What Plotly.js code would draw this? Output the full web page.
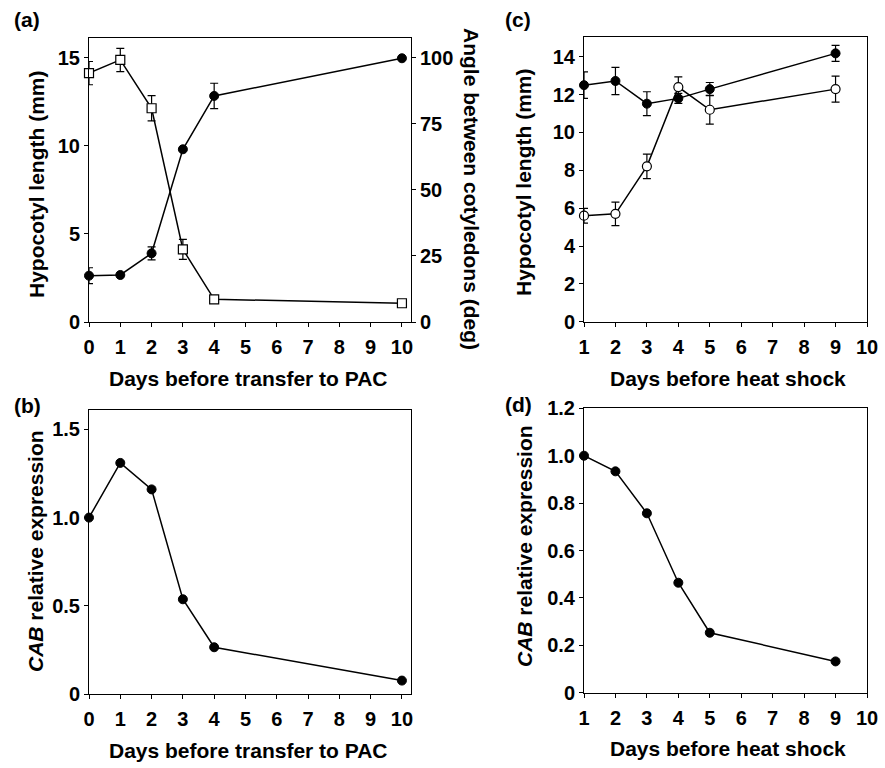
<!DOCTYPE html>
<html>
<head>
<meta charset="utf-8">
<script src="https://cdn.plot.ly/plotly-3.0.1.min.js"></script>
<style>html,body{margin:0;padding:0;background:#fff;}#chart{width:885px;height:768px;}</style>
</head>
<body>
<div id="chart"></div>
<script>
// Panel (a): days before transfer to PAC
const daysPAC = [0, 1, 2, 3, 4, 10];
const hypoPAC = [2.63, 2.67, 3.9, 9.81, 12.84, 14.98];
const hypoPACerr = [0.45, 0, 0.37, 0, 0.72, 0];
const anglePAC = [94.2, 99.2, 80.9, 27.5, 8.6, 7.1];
const anglePACerr = [4.4, 4.4, 4.8, 3.8, 0, 0];
// Panel (b)
const cabPAC = [1.0, 1.31, 1.16, 0.537, 0.265, 0.076];
// Panel (c): days before heat shock
const daysHS = [1, 2, 3, 4, 5, 9];
const hypoHSfilled = [12.5, 12.72, 11.52, 11.8, 12.29, 14.18];
const hypoHSfilledErr = [0.7, 0.72, 0.63, 0.26, 0.35, 0.42];
const hypoHSopen = [5.6, 5.7, 8.21, 12.4, 11.2, 12.29];
const hypoHSopenErr = [0.39, 0.62, 0.65, 0.54, 0.76, 0.69];
// Panel (d)
const cabHS = [1.0, 0.934, 0.757, 0.464, 0.253, 0.132];

const ticksPAC = [0,1,2,3,4,5,6,7,8,9,10];
const ticksHS = [1,2,3,4,5,6,7,8,9,10];
const ticksHypoPAC = [0, 5, 10, 15];
const ticksAngle = [0, 25, 50, 75, 100];
const ticksCabPAC = [0, 0.5, 1.0, 1.5];
const ticksCabPACtext = ['0', '0.5', '1.0', '1.5'];
const ticksHypoHS = [0, 2, 4, 6, 8, 10, 12, 14];
const ticksCabHS = [0, 0.2, 0.4, 0.6, 0.8, 1.0, 1.2];
const ticksCabHStext = ['0', '0.2', '0.4', '0.6', '0.8', '1.0', '1.2'];

const FONT = 'Liberation Sans, Arial, sans-serif';
const W = 885, H = 768;
const px = (a, b) => [a / W, b / W];
const py = (top, bottom) => [1 - bottom / H, 1 - top / H];

const lineStyle = {color: '#000', width: 1.5};
const errStyle = (arr) => ({type: 'data', array: arr, visible: true, color: '#000', thickness: 1.2, width: 4});
const filled = {symbol: 'circle', size: 9, color: '#000', line: {color: '#000', width: 1}};

const traces = [
  {x: daysPAC, y: anglePAC, xaxis: 'x', yaxis: 'y2', mode: 'lines+markers', line: lineStyle,
   marker: {symbol: 'square', size: 9, color: '#fff', line: {color: '#000', width: 1.2}},
   error_y: errStyle(anglePACerr), cliponaxis: false},
  {x: daysPAC, y: hypoPAC, xaxis: 'x', yaxis: 'y', mode: 'lines+markers', line: lineStyle,
   marker: filled, error_y: errStyle(hypoPACerr), cliponaxis: false},
  {x: daysPAC, y: cabPAC, xaxis: 'x2', yaxis: 'y3', mode: 'lines+markers', line: lineStyle,
   marker: filled, cliponaxis: false},
  {x: daysHS, y: hypoHSfilled, xaxis: 'x3', yaxis: 'y4', mode: 'lines+markers', line: lineStyle,
   marker: filled, error_y: errStyle(hypoHSfilledErr), cliponaxis: false},
  {x: daysHS, y: hypoHSopen, xaxis: 'x3', yaxis: 'y4', mode: 'lines+markers', line: lineStyle,
   marker: {symbol: 'circle', size: 9, color: '#fff', line: {color: '#000', width: 1.2}},
   error_y: errStyle(hypoHSopenErr), cliponaxis: false},
  {x: daysHS, y: cabHS, xaxis: 'x4', yaxis: 'y5', mode: 'lines+markers', line: lineStyle,
   marker: filled, cliponaxis: false}
];

const tickfont = {family: FONT, size: 20, color: '#000', weight: 'bold'};
const baseAxis = {
  showgrid: false, zeroline: false, showline: true, linecolor: '#000', linewidth: 1,
  ticks: 'outside', ticklen: 4, tickwidth: 1, tickcolor: '#000', tickfont: tickfont,
  fixedrange: true
};
const xAx = (dom, anchor, range, vals) => Object.assign({}, baseAxis, {
  domain: dom, anchor: anchor, range: range, tickmode: 'array', tickvals: vals,
  ticktext: vals.map(String), mirror: true, ticklabelstandoff: 3
});
const yAx = (dom, anchor, range, vals, text) => Object.assign({}, baseAxis, {
  domain: dom, anchor: anchor, range: range, tickmode: 'array', tickvals: vals,
  ticktext: text || vals.map(String), mirror: true
});

const xa = px(89, 411), xc = px(584, 867);
const ya = py(38, 322), yb = py(410, 694), yc = py(36.7, 321.7), yd = py(408.3, 692.7);

const layout = {
  width: W, height: H, margin: {l: 0, r: 0, t: 0, b: 0},
  paper_bgcolor: '#fff', plot_bgcolor: '#fff', showlegend: false,
  font: {family: FONT, color: '#000'},
  xaxis: xAx(xa, 'y', [0, 10.29], ticksPAC),
  yaxis: Object.assign(yAx(ya, 'x', [0, 16.13], ticksHypoPAC), {mirror: false}),
  yaxis2: Object.assign(yAx(ya, 'x', [0, 107.5], ticksAngle), {overlaying: 'y', side: 'right', mirror: false}),
  xaxis2: xAx(xa, 'y3', [0, 10.29], ticksPAC),
  yaxis3: yAx(yb, 'x2', [0, 1.61], ticksCabPAC, ticksCabPACtext),
  xaxis3: xAx(xc, 'y4', [1, 10], ticksHS),
  yaxis4: yAx(yc, 'x3', [0, 15.06], ticksHypoHS),
  xaxis4: xAx(xc, 'y5', [1, 10], ticksHS),
  yaxis5: yAx(yd, 'x4', [0, 1.2], ticksCabHS, ticksCabHStext),
  annotations: []
};

const titleFont = {family: FONT, size: 21, color: '#000', weight: 'bold'};
const ann = (text, x, y, angle, size) => ({
  text: text, x: x / W, y: 1 - y / H, xref: 'paper', yref: 'paper',
  xanchor: 'center', yanchor: 'middle', showarrow: false, textangle: angle || 0,
  font: Object.assign({}, titleFont, size ? {size: size} : {})
});
layout.annotations.push(
  ann('(a)', 27, 20),
  ann('(b)', 27, 405),
  ann('(c)', 518, 19),
  ann('(d)', 518, 404),
  ann('Days before transfer to PAC', 248, 378),
  ann('Days before transfer to PAC', 248, 750),
  ann('Days before heat shock', 728, 378),
  ann('Days before heat shock', 728, 748),
  ann('Hypocotyl length (mm)', 36, 184, -90),
  ann('Angle between cotyledons (deg)', 472, 189, 90),
  ann('Hypocotyl length (mm)', 524, 182, -90),
  ann('<i>CAB</i> relative expression', 35, 551, -90),
  ann('<i>CAB</i> relative expression', 524, 546, -90)
);

Plotly.newPlot('chart', traces, layout, {staticPlot: true, displayModeBar: false});
</script>
</body>
</html>
